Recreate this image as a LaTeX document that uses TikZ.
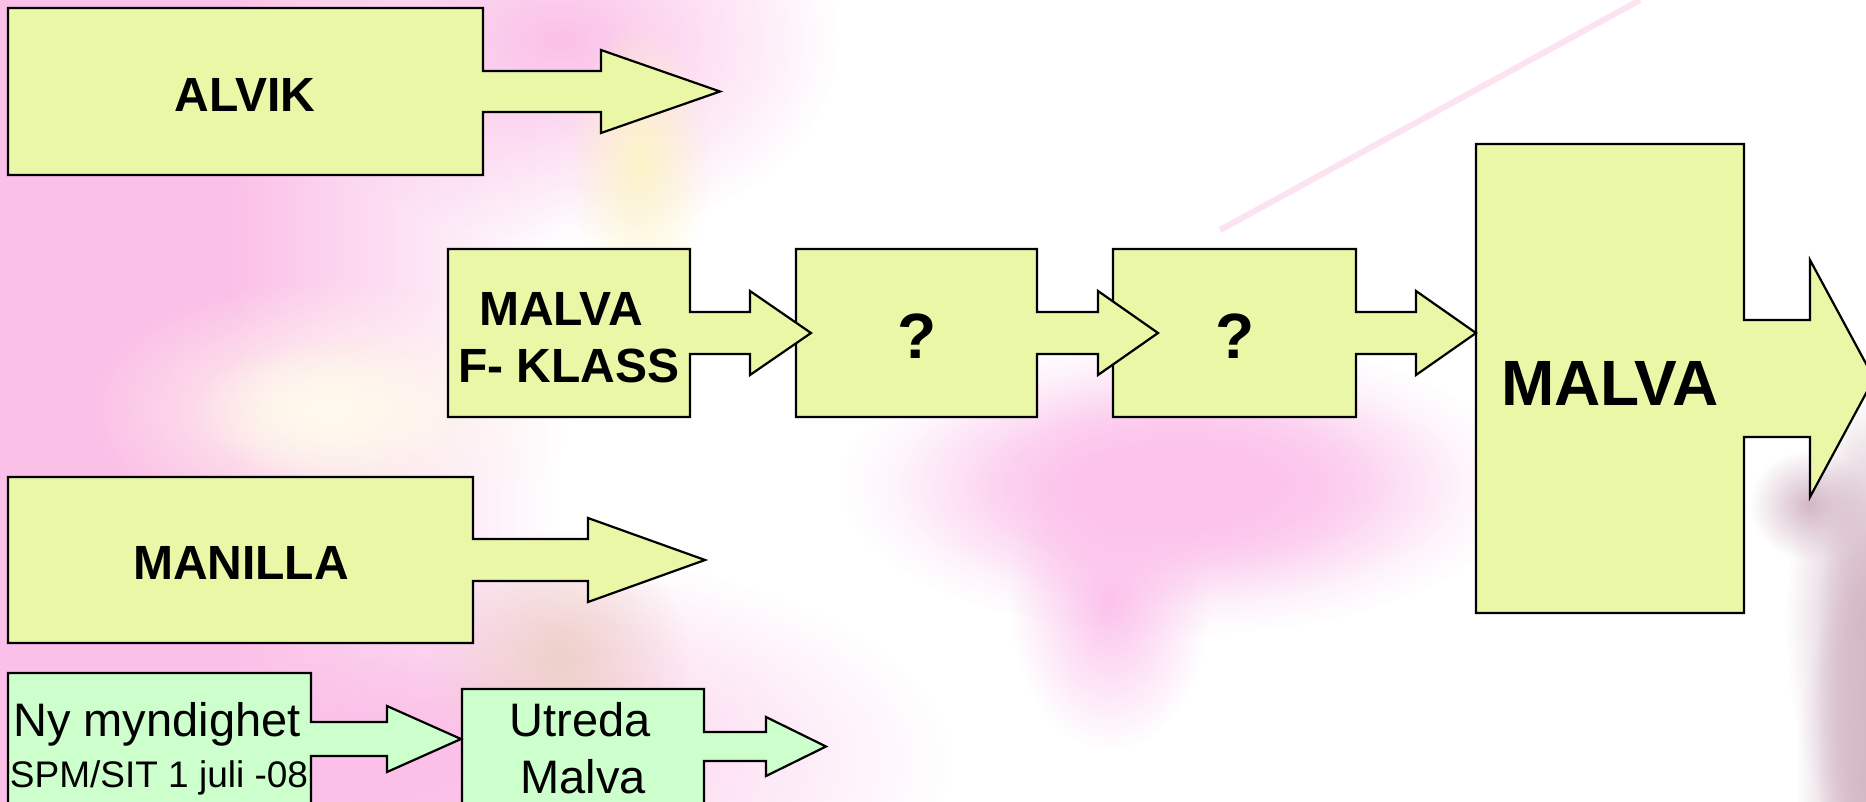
\documentclass[tikz,border=0pt]{standalone}
\usepackage{fontspec}
\setmainfont{Liberation Sans}
\usetikzlibrary{fadings}
\definecolor{boxY}{RGB}{234,247,166}
\definecolor{boxG}{RGB}{204,255,204}
\definecolor{pinkA}{RGB}{251,192,232}
\definecolor{pinkB}{RGB}{252,194,236}
\definecolor{pinkC}{RGB}{253,226,241}
\definecolor{creamA}{RGB}{255,250,236}
\definecolor{yelA}{RGB}{252,244,200}
\definecolor{peachA}{RGB}{238,208,200}
\definecolor{mauveA}{RGB}{212,184,198}
\tikzfading[name=soft, inner color=transparent!0, outer color=transparent!100]
\tikzfading[name=fadeR, left color=transparent!0, right color=transparent!100]
\begin{document}
\begin{tikzpicture}[x=0.5pt,y=-0.5pt,
  abox/.style={draw=black, line width=1.1pt, line join=miter},
  ylw/.style={abox, fill=boxY},
  grn/.style={abox, fill=boxG},
  btext/.style={font=\bfseries\fontsize{24}{28}\selectfont, anchor=base, inner sep=0pt},
  bigtext/.style={font=\bfseries\fontsize{32}{38}\selectfont, anchor=base, inner sep=0pt},
  gtext/.style={font=\fontsize{23.5}{28}\selectfont, anchor=base, inner sep=0pt},
  stext/.style={font=\fontsize{18.5}{22}\selectfont, anchor=base, inner sep=0pt},
  blob/.style={path fading=soft}]
\useasboundingbox (0,0) rectangle (1866,802);
\clip (0,0) rectangle (1866,802);
% background
\fill[white] (0,0) rectangle (1866,802);
\fill[pinkA] (0,0) rectangle (230,802);
\fill[pinkA, path fading=fadeR] (230,0) rectangle (560,802);
\fill[pinkA, blob] (560,40) ellipse [x radius=280, y radius=200];
\fill[pinkA, blob] (430,760) ellipse [x radius=520, y radius=220];
\fill[pinkA, blob] (380,780) ellipse [x radius=300, y radius=120];
\fill[creamA, blob] (330,410) ellipse [x radius=240, y radius=130];
\fill[creamA, blob] (330,410) ellipse [x radius=140, y radius=70];
\fill[yelA, blob] (640,160) ellipse [x radius=70, y radius=140];
\fill[peachA, blob] (560,660) ellipse [x radius=130, y radius=130];
\fill[pinkB, blob] (1180,485) ellipse [x radius=340, y radius=150];
\fill[pinkB, blob] (1180,485) ellipse [x radius=280, y radius=120];
\fill[pinkB, blob] (1180,485) ellipse [x radius=210, y radius=90];
\fill[pinkB, blob] (1110,600) ellipse [x radius=100, y radius=150];
\draw[pinkC, line width=3pt] (1640,0) -- (1220,230);
\fill[mauveA, blob] (1810,505) ellipse [x radius=60, y radius=55];
\fill[mauveA, blob] (1866,620) ellipse [x radius=80, y radius=220];
\fill[mauveA, blob] (1866,780) ellipse [x radius=70, y radius=200];
\fill[mauveA, blob] (1866,700) ellipse [x radius=50, y radius=300];
% shapes (drawn right to left so arrowheads lie on top)
\path[ylw] (1476,144) -- (1744,144) -- (1744,320) -- (1810,320) -- (1810,260) -- (1874,378.5) -- (1810,497) -- (1810,437) -- (1744,437) -- (1744,613) -- (1476,613) -- cycle;
\path[ylw] (1113,249) -- (1356,249) -- (1356,312) -- (1416,312) -- (1416,291) -- (1476,333) -- (1416,375) -- (1416,354) -- (1356,354) -- (1356,417) -- (1113,417) -- cycle;
\path[ylw] (796,249) -- (1037,249) -- (1037,312) -- (1098,312) -- (1098,291) -- (1158,333) -- (1098,375) -- (1098,354) -- (1037,354) -- (1037,417) -- (796,417) -- cycle;
\path[ylw] (448,249) -- (690,249) -- (690,312) -- (750,312) -- (750,291) -- (811,333) -- (750,375) -- (750,354) -- (690,354) -- (690,417) -- (448,417) -- cycle;
\path[ylw] (8,8) -- (483,8) -- (483,71) -- (601,71) -- (601,50) -- (720,91.5) -- (601,133) -- (601,112) -- (483,112) -- (483,175) -- (8,175) -- cycle;
\path[ylw] (8,477) -- (473,477) -- (473,539) -- (588,539) -- (588,518) -- (705,560) -- (588,602) -- (588,581) -- (473,581) -- (473,643) -- (8,643) -- cycle;
\path[grn] (462,689) -- (704,689) -- (704,732) -- (766,732) -- (766,717) -- (826,746.5) -- (766,776) -- (766,761) -- (704,761) -- (704,850) -- (462,850) -- cycle;
\path[grn] (8,673) -- (311,673) -- (311,722) -- (387,722) -- (387,706) -- (461,739) -- (387,772) -- (387,756) -- (311,756) -- (311,850) -- (8,850) -- cycle;
% texts
\node[btext] (alvik) at (245,112) {ALVIK};
\node[btext] (fk1) at (561,325) {MALVA};
\node[btext] (fk2) at (569,382) {F- KLASS};
\node[bigtext] (q1) at (917,358) {?};
\node[bigtext] (q2) at (1235,358) {?};
\node[bigtext] (malva) at (1610,405) {MALVA};
\node[btext] (manilla) at (241,579) {MANILLA};
\node[gtext] (ny1) at (157,736) {Ny myndighet};
\node[stext] (ny2) at (159,787) {SPM/SIT 1 juli -08};
\node[gtext] (ut1) at (580,736) {Utreda};
\node[gtext] (ut2) at (583,793) {Malva};
\end{tikzpicture}
\end{document}
